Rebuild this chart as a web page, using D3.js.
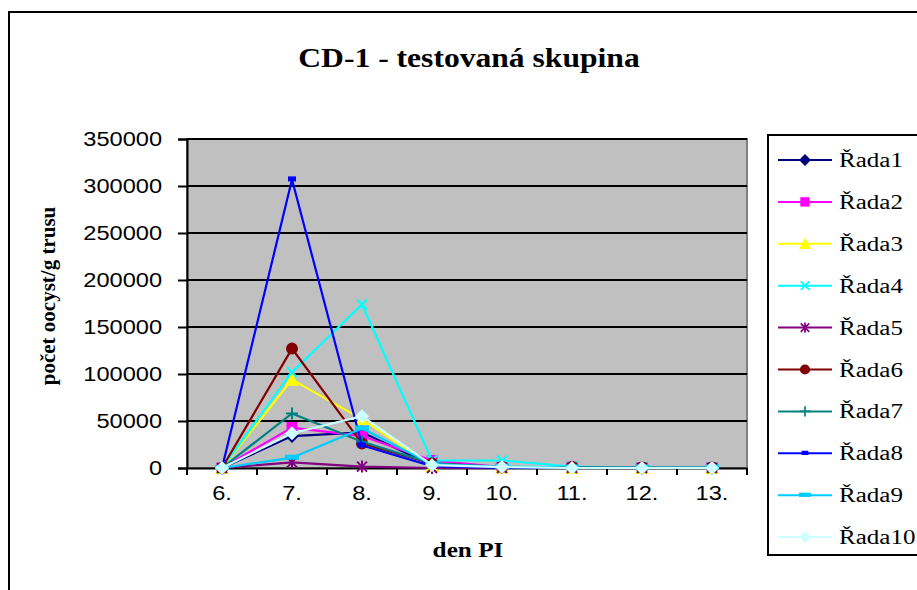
<!DOCTYPE html>
<meta charset="utf-8">
<style>
body { margin: 0; background: #fff; }
text { font-family: "Liberation Serif", "Times New Roman", serif; }
.axis text { font-family: "Liberation Sans", Arial, sans-serif; font-size: 20px; fill: #000; }
</style>
<svg></svg>
<script src="https://d3js.org/d3.v7.min.js"></script>
<script>

// data
var days = ["6.", "7.", "8.", "9.", "10.", "11.", "12.", "13."];
var yTicks = [0, 50000, 100000, 150000, 200000, 250000, 300000, 350000];
var seriesNames = ["Řada1", "Řada2", "Řada3", "Řada4", "Řada5", "Řada6", "Řada7", "Řada8", "Řada9", "Řada10"];
var rada1  = [0, 34000, 38000, 3000, 1000, 500, 0, 0];
var rada2  = [0, 43000, 34000, 8000, 1000, 1000, 500, 500];
var rada3  = [0, 94000, 52000, 2000, 500, 0, 0, 0];
var rada4  = [0, 102000, 174000, 8000, 8000, 1500, 500, 500];
var rada5  = [0, 6000, 1500, 0, 0, 0, 0, 0];
var rada6  = [0, 127000, 26000, 5000, 1000, 1000, 500, 500];
var rada7  = [0, 58000, 28000, 5000, 1000, 500, 0, 0];
var rada8  = [0, 307000, 24000, 2000, 0, 0, 0, 0];
var rada9  = [0, 11000, 42000, 4000, 1500, 500, 500, 500];
var rada10 = [0, 37000, 55000, 3000, 1000, 0, 0, 0];
var allSeries = [rada1, rada2, rada3, rada4, rada5, rada6, rada7, rada8, rada9, rada10];

var colors = ["#000080", "#FF00FF", "#FFFF00", "#00FFFF", "#800080", "#800000", "#008080", "#0000FF", "#00CCFF", "#CCFFFF"];
var shapes = ["diamond", "square", "triangle", "cross", "star", "circle", "plus", "dash", "longdash", "diamond"];

var W = 917, H = 590;
var svg = d3.select("svg").attr("width", W).attr("height", H);

// the original picture is a bit wider than tall, so text is stretched sideways
function stretch(sel, k) {
  sel.each(function() {
    var len = this.getComputedTextLength();
    d3.select(this).attr("textLength", len * k).attr("lengthAdjust", "spacingAndGlyphs");
  });
}

// chart border
svg.append("rect")
  .attr("x", 9).attr("y", 12).attr("width", W + 20).attr("height", H + 20)
  .attr("fill", "#fff").attr("stroke", "#000").attr("stroke-width", 2);

var plot = {left: 187, top: 139, right: 747, bottom: 468};

var x = d3.scaleBand().domain(days).range([plot.left, plot.right]);
var y = d3.scaleLinear().domain([0, 350000]).range([plot.bottom, plot.top]);

svg.append("rect")
  .attr("x", plot.left).attr("y", plot.top)
  .attr("width", plot.right - plot.left).attr("height", plot.bottom - plot.top)
  .attr("fill", "#C0C0C0").attr("stroke", "#808080").attr("stroke-width", 2);

// gridlines
svg.append("g").selectAll("line")
  .data(yTicks.slice(1))
  .enter().append("line")
    .attr("x1", plot.left).attr("x2", plot.right)
    .attr("y1", function(d) { return y(d); }).attr("y2", function(d) { return y(d); })
    .attr("stroke", "#000").attr("stroke-width", 2);

// y axis
var yAxis = svg.append("g").attr("class", "axis")
  .attr("transform", "translate(" + plot.left + ",0)")
  .call(d3.axisLeft(y).tickValues(yTicks).tickFormat(d3.format("d")).tickSize(9).tickPadding(16));
yAxis.select(".domain").attr("stroke-width", 2);
yAxis.selectAll(".tick line").attr("stroke-width", 2);
stretch(yAxis.selectAll(".tick text"), 1.18);

// x axis, ticks between categories
var xAxis = svg.append("g").attr("class", "axis")
  .attr("transform", "translate(0," + plot.bottom + ")")
  .call(d3.axisBottom(x).tickSize(0).tickPadding(15));
xAxis.select(".domain").attr("stroke-width", 2);
xAxis.selectAll(".tick text").attr("dy", "0.85em");
stretch(xAxis.selectAll(".tick text"), 1.18);
svg.append("g").selectAll("line")
  .data(days.concat(["end"]))
  .enter().append("line")
    .attr("x1", function(d, i) { return plot.left + i * x.step(); })
    .attr("x2", function(d, i) { return plot.left + i * x.step(); })
    .attr("y1", plot.bottom).attr("y2", plot.bottom + 7)
    .attr("stroke", "#000").attr("stroke-width", 2);

// titles
svg.append("text")
  .attr("x", 469).attr("y", 67)
  .attr("text-anchor", "middle")
  .style("font-size", "27px").style("font-weight", "bold")
  .text("CD-1 - testovaná skupina")
  .call(stretch, 1.17);

svg.append("text")
  .attr("x", 468).attr("y", 557)
  .attr("text-anchor", "middle")
  .style("font-size", "21px").style("font-weight", "bold")
  .text("den PI")
  .call(stretch, 1.2);

svg.append("text")
  .attr("transform", "translate(55,296) rotate(-90)")
  .attr("text-anchor", "middle")
  .style("font-size", "21px").style("font-weight", "bold")
  .text("počet oocyst/g trusu");

// marker drawing
function drawMarker(g, shape, color, s) {
  s = s || 1;
  if (shape == "diamond") {
    g.append("path").attr("d", "M0,-7L7,0L0,7L-7,0Z").attr("transform", "scale(" + s + ")").attr("fill", color);
  } else if (shape == "square") {
    g.append("rect").attr("x", -5.5 * s).attr("y", -5.5 * s).attr("width", 11 * s).attr("height", 11 * s).attr("fill", color);
  } else if (shape == "triangle") {
    g.append("path").attr("d", "M0,-7L7,6L-7,6Z").attr("transform", "scale(" + s + ")").attr("fill", color);
  } else if (shape == "cross") {
    g.append("path").attr("d", "M-5,-5L5,5M-5,5L5,-5").attr("transform", "scale(" + s + ")").attr("stroke", color).attr("stroke-width", 2);
  } else if (shape == "star") {
    g.append("path").attr("d", "M-5,-5L5,5M-5,5L5,-5M0,-6L0,6").attr("transform", "scale(" + s + ")").attr("stroke", color).attr("stroke-width", 2);
  } else if (shape == "circle") {
    g.append("circle").attr("r", 6 * s).attr("fill", color);
  } else if (shape == "plus") {
    g.append("path").attr("d", "M-6,0L6,0M0,-6L0,6").attr("transform", "scale(" + s + ")").attr("stroke", color).attr("stroke-width", 2);
  } else if (shape == "dash") {
    g.append("rect").attr("x", -4 * s).attr("y", -3 * s).attr("width", 8 * s).attr("height", 5 * s).attr("fill", color);
  } else if (shape == "longdash") {
    g.append("rect").attr("x", -7 * s).attr("y", -3 * s).attr("width", 14 * s).attr("height", 5 * s).attr("fill", color);
  }
}

var line = d3.line()
  .x(function(d, i) { return x(days[i]) + x.bandwidth() / 2; })
  .y(function(d) { return y(d); });

var series = svg.append("g").selectAll("g")
  .data(allSeries)
  .enter().append("g");

series.append("path")
  .attr("d", function(d) { return line(d); })
  .attr("fill", "none")
  .attr("stroke", function(d, i) { return colors[i]; })
  .attr("stroke-width", 2.2);

series.each(function(d, i) {
  var g = d3.select(this);
  d.forEach(function(v, j) {
    var m = g.append("g")
      .attr("transform", "translate(" + (x(days[j]) + x.bandwidth() / 2) + "," + y(v) + ")");
    drawMarker(m, shapes[i], colors[i]);
  });
});

// legend
var legend = svg.append("g");
legend.append("rect")
  .attr("x", 768).attr("y", 135).attr("width", 170).attr("height", 420)
  .attr("fill", "#fff").attr("stroke", "#000").attr("stroke-width", 2);

var items = legend.selectAll("g.item")
  .data(seriesNames)
  .enter().append("g")
    .attr("class", "item")
    .attr("transform", function(d, i) { return "translate(0," + (160 + i * 41.9) + ")"; });

items.append("line")
  .attr("x1", 778).attr("x2", 832)
  .attr("stroke", function(d, i) { return colors[i]; })
  .attr("stroke-width", 2);

items.each(function(d, i) {
  var m = d3.select(this).append("g").attr("transform", "translate(805,0)");
  drawMarker(m, shapes[i], colors[i], 0.85);
});

items.append("text")
  .attr("x", 839).attr("y", 7)
  .style("font-size", "20.5px")
  .text(function(d) { return d; })
  .call(stretch, 1.22);

</script>
